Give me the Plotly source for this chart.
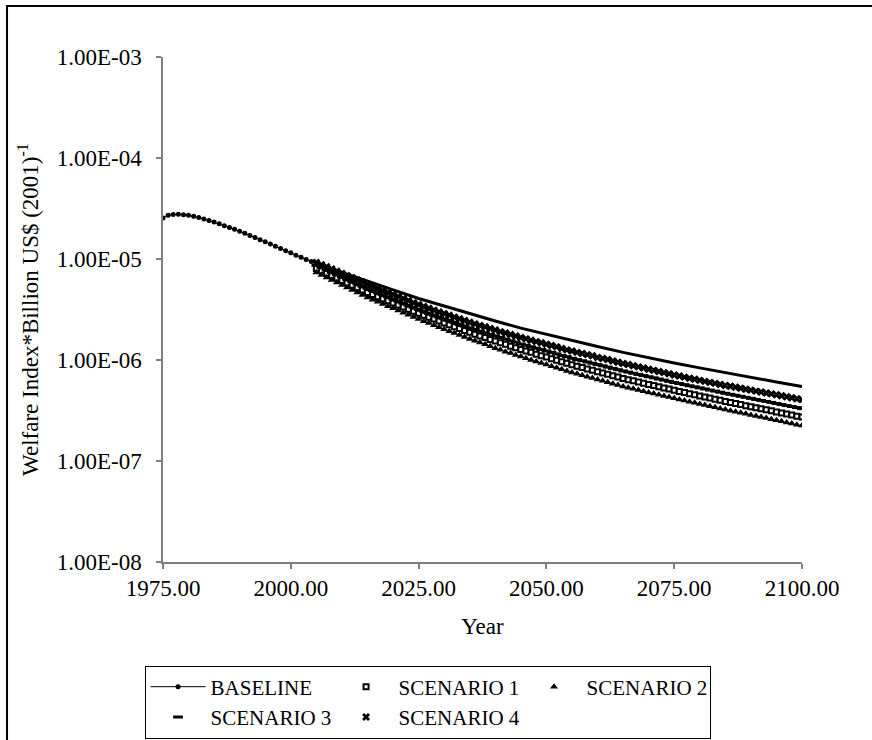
import plotly.graph_objects as go

# ---------------- data ----------------
YEARS_HIST = list(range(1975, 2006))
BASELINE_HIST = [
    2.55e-5, 2.71e-5, 2.76e-5, 2.77e-5, 2.75e-5, 2.71e-5, 2.65e-5, 2.57e-5, 2.49e-5, 2.40e-5,
    2.32e-5, 2.23e-5, 2.14e-5, 2.05e-5, 1.97e-5, 1.88e-5, 1.80e-5, 1.71e-5, 1.63e-5, 1.55e-5,
    1.48e-5, 1.41e-5, 1.34e-5, 1.27e-5, 1.21e-5, 1.15e-5, 1.09e-5, 1.04e-5, 9.91e-6, 9.47e-6,
    9.04e-6,
]

YEARS_PROJ = [2005, 2010, 2015, 2020, 2025, 2030, 2035, 2040, 2045, 2050,
              2055, 2060, 2065, 2070, 2075, 2080, 2085, 2090, 2095, 2100]
BASELINE_PROJ = [9.04e-6, 7.36e-6, 5.99e-6, 4.94e-6, 4.06e-6, 3.41e-6, 2.85e-6, 2.43e-6, 2.07e-6, 1.79e-6,
                 1.55e-6, 1.36e-6, 1.19e-6, 1.05e-6, 9.35e-7, 8.36e-7, 7.48e-7, 6.73e-7, 6.06e-7, 5.46e-7]

YEARS_SCEN = list(range(2005, 2101))
SCENARIO_1 = [
    8.07e-6, 7.64e-6, 7.23e-6, 6.84e-6, 6.48e-6, 6.13e-6, 5.80e-6, 5.50e-6, 5.20e-6, 4.93e-6,
    4.66e-6, 4.44e-6, 4.24e-6, 4.04e-6, 3.85e-6, 3.67e-6, 3.50e-6, 3.34e-6, 3.18e-6, 3.04e-6,
    2.90e-6, 2.77e-6, 2.65e-6, 2.54e-6, 2.43e-6, 2.33e-6, 2.23e-6, 2.13e-6, 2.05e-6, 1.96e-6,
    1.88e-6, 1.80e-6, 1.73e-6, 1.67e-6, 1.60e-6, 1.54e-6, 1.48e-6, 1.43e-6, 1.37e-6, 1.32e-6,
    1.27e-6, 1.23e-6, 1.19e-6, 1.14e-6, 1.10e-6, 1.07e-6, 1.03e-6, 9.93e-7, 9.59e-7, 9.26e-7,
    8.95e-7, 8.68e-7, 8.42e-7, 8.16e-7, 7.91e-7, 7.67e-7, 7.43e-7, 7.21e-7, 6.99e-7, 6.77e-7,
    6.57e-7, 6.39e-7, 6.22e-7, 6.05e-7, 5.89e-7, 5.73e-7, 5.58e-7, 5.43e-7, 5.29e-7, 5.15e-7,
    5.01e-7, 4.88e-7, 4.76e-7, 4.64e-7, 4.52e-7, 4.41e-7, 4.30e-7, 4.20e-7, 4.09e-7, 3.99e-7,
    3.89e-7, 3.80e-7, 3.71e-7, 3.62e-7, 3.53e-7, 3.45e-7, 3.37e-7, 3.29e-7, 3.21e-7, 3.14e-7,
    3.06e-7, 2.99e-7, 2.92e-7, 2.85e-7, 2.78e-7, 2.72e-7,
]
SCENARIO_2 = [
    7.36e-6, 6.95e-6, 6.57e-6, 6.20e-6, 5.86e-6, 5.53e-6, 5.23e-6, 4.94e-6, 4.66e-6, 4.40e-6,
    4.16e-6, 3.96e-6, 3.77e-6, 3.59e-6, 3.41e-6, 3.25e-6, 3.09e-6, 2.94e-6, 2.80e-6, 2.67e-6,
    2.54e-6, 2.42e-6, 2.32e-6, 2.21e-6, 2.11e-6, 2.02e-6, 1.93e-6, 1.85e-6, 1.77e-6, 1.69e-6,
    1.61e-6, 1.55e-6, 1.49e-6, 1.43e-6, 1.37e-6, 1.31e-6, 1.26e-6, 1.21e-6, 1.17e-6, 1.12e-6,
    1.08e-6, 1.04e-6, 1.00e-6, 9.68e-7, 9.34e-7, 9.00e-7, 8.68e-7, 8.38e-7, 8.08e-7, 7.80e-7,
    7.53e-7, 7.29e-7, 7.06e-7, 6.84e-7, 6.63e-7, 6.42e-7, 6.22e-7, 6.02e-7, 5.83e-7, 5.65e-7,
    5.47e-7, 5.32e-7, 5.18e-7, 5.04e-7, 4.91e-7, 4.78e-7, 4.65e-7, 4.53e-7, 4.41e-7, 4.29e-7,
    4.17e-7, 4.07e-7, 3.97e-7, 3.87e-7, 3.77e-7, 3.67e-7, 3.58e-7, 3.49e-7, 3.40e-7, 3.31e-7,
    3.23e-7, 3.15e-7, 3.08e-7, 3.00e-7, 2.93e-7, 2.86e-7, 2.79e-7, 2.72e-7, 2.66e-7, 2.59e-7,
    2.53e-7, 2.47e-7, 2.41e-7, 2.35e-7, 2.29e-7, 2.24e-7,
]
SCENARIO_3 = [
    8.64e-6, 8.20e-6, 7.78e-6, 7.38e-6, 7.00e-6, 6.64e-6, 6.30e-6, 5.98e-6, 5.67e-6, 5.38e-6,
    5.11e-6, 4.87e-6, 4.64e-6, 4.43e-6, 4.22e-6, 4.03e-6, 3.84e-6, 3.66e-6, 3.49e-6, 3.33e-6,
    3.17e-6, 3.04e-6, 2.90e-6, 2.78e-6, 2.67e-6, 2.56e-6, 2.46e-6, 2.36e-6, 2.26e-6, 2.17e-6,
    2.08e-6, 2.01e-6, 1.93e-6, 1.86e-6, 1.79e-6, 1.73e-6, 1.67e-6, 1.61e-6, 1.55e-6, 1.50e-6,
    1.44e-6, 1.40e-6, 1.35e-6, 1.31e-6, 1.27e-6, 1.23e-6, 1.19e-6, 1.15e-6, 1.11e-6, 1.08e-6,
    1.04e-6, 1.01e-6, 9.84e-7, 9.56e-7, 9.28e-7, 9.01e-7, 8.76e-7, 8.50e-7, 8.26e-7, 8.02e-7,
    7.79e-7, 7.59e-7, 7.39e-7, 7.20e-7, 7.01e-7, 6.83e-7, 6.66e-7, 6.48e-7, 6.32e-7, 6.15e-7,
    5.99e-7, 5.85e-7, 5.70e-7, 5.56e-7, 5.43e-7, 5.30e-7, 5.17e-7, 5.04e-7, 4.92e-7, 4.80e-7,
    4.68e-7, 4.57e-7, 4.47e-7, 4.37e-7, 4.27e-7, 4.17e-7, 4.07e-7, 3.98e-7, 3.89e-7, 3.80e-7,
    3.71e-7, 3.62e-7, 3.54e-7, 3.46e-7, 3.38e-7, 3.30e-7,
]
SCENARIO_4 = [
    9.25e-6, 8.80e-6, 8.37e-6, 7.96e-6, 7.57e-6, 7.20e-6, 6.84e-6, 6.51e-6, 6.19e-6, 5.89e-6,
    5.60e-6, 5.35e-6, 5.11e-6, 4.88e-6, 4.66e-6, 4.45e-6, 4.25e-6, 4.06e-6, 3.88e-6, 3.70e-6,
    3.54e-6, 3.39e-6, 3.25e-6, 3.12e-6, 2.99e-6, 2.88e-6, 2.77e-6, 2.66e-6, 2.56e-6, 2.46e-6,
    2.37e-6, 2.28e-6, 2.20e-6, 2.13e-6, 2.05e-6, 1.98e-6, 1.91e-6, 1.85e-6, 1.79e-6, 1.73e-6,
    1.67e-6, 1.62e-6, 1.57e-6, 1.52e-6, 1.48e-6, 1.43e-6, 1.39e-6, 1.35e-6, 1.30e-6, 1.26e-6,
    1.23e-6, 1.19e-6, 1.16e-6, 1.13e-6, 1.10e-6, 1.06e-6, 1.035e-6, 1.01e-6, 9.79e-7, 9.51e-7,
    9.25e-7, 9.01e-7, 8.78e-7, 8.55e-7, 8.33e-7, 8.11e-7, 7.90e-7, 7.70e-7, 7.50e-7, 7.30e-7,
    7.11e-7, 6.94e-7, 6.77e-7, 6.60e-7, 6.44e-7, 6.29e-7, 6.14e-7, 6.00e-7, 5.87e-7, 5.73e-7,
    5.60e-7, 5.49e-7, 5.37e-7, 5.25e-7, 5.14e-7, 5.03e-7, 4.92e-7, 4.82e-7, 4.72e-7, 4.62e-7,
    4.52e-7, 4.42e-7, 4.33e-7, 4.23e-7, 4.14e-7, 4.05e-7,
]

X_TICKS = [1975, 2000, 2025, 2050, 2075, 2100]
X_TICK_TEXT = ["1975.00", "2000.00", "2025.00", "2050.00", "2075.00", "2100.00"]
Y_TICKS = [1e-3, 1e-4, 1e-5, 1e-6, 1e-7, 1e-8]
Y_TICK_TEXT = ["1.00E-03", "1.00E-04", "1.00E-05", "1.00E-06", "1.00E-07", "1.00E-08"]

SERIES_NAMES = ["BASELINE", "SCENARIO 1", "SCENARIO 2", "SCENARIO 3", "SCENARIO 4"]

# ---------------- figure ----------------
FONT = "Liberation Serif"
BLACK = "#000000"
AXIS = "#7f7f7f"
AX_FONT = dict(family=FONT, size=23, color=BLACK)

fig = go.Figure()

fig.add_trace(go.Scatter(
    x=YEARS_HIST, y=BASELINE_HIST, name=SERIES_NAMES[0], mode="lines+markers",
    line=dict(color=BLACK, width=1),
    marker=dict(symbol="circle", size=5, color=BLACK),
))
fig.add_trace(go.Scatter(
    x=YEARS_SCEN, y=SCENARIO_1, name=SERIES_NAMES[1], mode="markers",
    marker=dict(symbol="square", size=5, color="white", line=dict(color=BLACK, width=2)),
))
fig.add_trace(go.Scatter(
    x=YEARS_SCEN, y=SCENARIO_2, name=SERIES_NAMES[2], mode="markers",
    marker=dict(symbol="triangle-up", size=7, color=BLACK, line=dict(width=0)),
))
fig.add_trace(go.Scatter(
    x=YEARS_SCEN, y=SCENARIO_3, name=SERIES_NAMES[3], mode="markers",
    marker=dict(symbol="line-ew", size=7, color=BLACK, line=dict(color=BLACK, width=3)),
))
fig.add_trace(go.Scatter(
    x=YEARS_SCEN, y=SCENARIO_4, name=SERIES_NAMES[4], mode="markers",
    marker=dict(symbol="x", size=7, color=BLACK, line=dict(width=0)),
))
fig.add_trace(go.Scatter(
    x=YEARS_PROJ, y=BASELINE_PROJ, name=SERIES_NAMES[0], mode="lines",
    line=dict(color=BLACK, width=3), showlegend=False,
))

fig.update_layout(
    width=872, height=740,
    margin=dict(l=163, r=70, t=57, b=178, autoexpand=False),
    plot_bgcolor="white", paper_bgcolor="white",
    font=AX_FONT,
    legend=dict(
        orientation="h", x=0.414, xanchor="center", y=-0.205, yanchor="top",
        bordercolor=BLACK, borderwidth=1, bgcolor="white",
        font=dict(family=FONT, size=21, color=BLACK),
        entrywidth=118, itemwidth=55,
    ),
    shapes=[dict(
        type="rect", xref="paper", yref="paper",
        x0=-0.2441, x1=1.25, y0=-0.40, y1=1.101,
        line=dict(color=BLACK, width=2), fillcolor="rgba(0,0,0,0)", layer="below",
    )],
)

fig.update_xaxes(
    range=[1975, 2100], tickvals=X_TICKS, ticktext=X_TICK_TEXT, tickfont=AX_FONT,
    showline=True, linecolor=AXIS, linewidth=1.5, ticks="outside", ticklen=5,
    tickcolor=AXIS, tickwidth=1.5, showgrid=False, zeroline=False, automargin=False,
    title=dict(text="Year", standoff=18, font=AX_FONT),
)
fig.update_yaxes(
    type="log", range=[-8, -3], tickvals=Y_TICKS, ticktext=Y_TICK_TEXT, tickfont=AX_FONT,
    showline=True, linecolor=AXIS, linewidth=1.5, ticks="outside", ticklen=5,
    tickcolor=AXIS, tickwidth=1.5, showgrid=False, zeroline=False, automargin=False,
    ticklabelstandoff=10,
    title=dict(text="Welfare Index*Billion US$ (2001)<sup>-1</sup>", standoff=12,
               font=AX_FONT),
)

# remove the default page margin / scrollbars so the figure sits at the window's corner
POST = ("document.body.style.margin='0px';"
        "document.body.style.overflow='hidden';"
        "document.documentElement.style.overflow='hidden';")
fig.write_html("out.html", config={"displayModeBar": False}, post_script=POST)
